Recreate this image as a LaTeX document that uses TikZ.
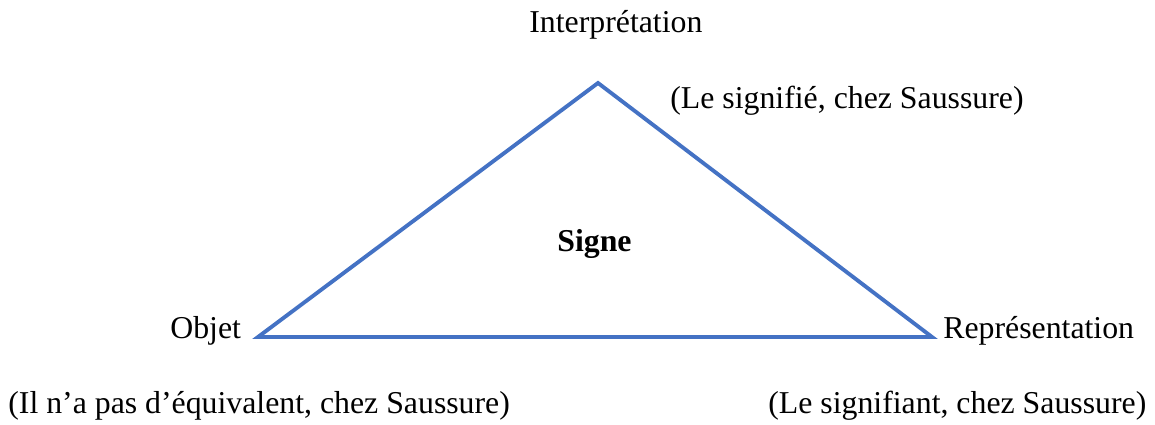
\documentclass[tikz,border=0pt]{standalone}
\usepackage{fontspec}
\setmainfont{Liberation Serif}
\definecolor{triblue}{HTML}{4472C4}
\begin{document}
\begin{tikzpicture}[x=0.02cm,y=-0.02cm,
  lbl/.style={anchor=base west,inner sep=0pt,font=\fontsize{18.1}{22}\selectfont},
  edge/.style={draw=triblue,line width=2.2pt,line join=miter}]
\useasboundingbox (0,0) rectangle (1155,425);
\coordinate (top) at (598,83);
\coordinate (left) at (258,337);
\coordinate (right) at (932,337);
\draw[edge] (top) -- (right) -- (left) -- cycle;
\node[lbl] (interp) at (529,33) {Interprétation};
\node[lbl] (signifie) at (670,109) {(Le signifié, chez Saussure)};
\node[lbl,font=\fontsize{18.1}{22}\selectfont\bfseries] (signe) at (557,252) {Signe};
\node[lbl] (objet) at (170,338) {Objet};
\node[lbl] (repr) at (943,338) {Représentation};
\node[lbl] (equiv) at (8,413) {(Il n’a pas d’équivalent, chez Saussure)};
\node[lbl] (signifiant) at (768,413) {(Le signifiant, chez Saussure)};
\end{tikzpicture}
\end{document}
